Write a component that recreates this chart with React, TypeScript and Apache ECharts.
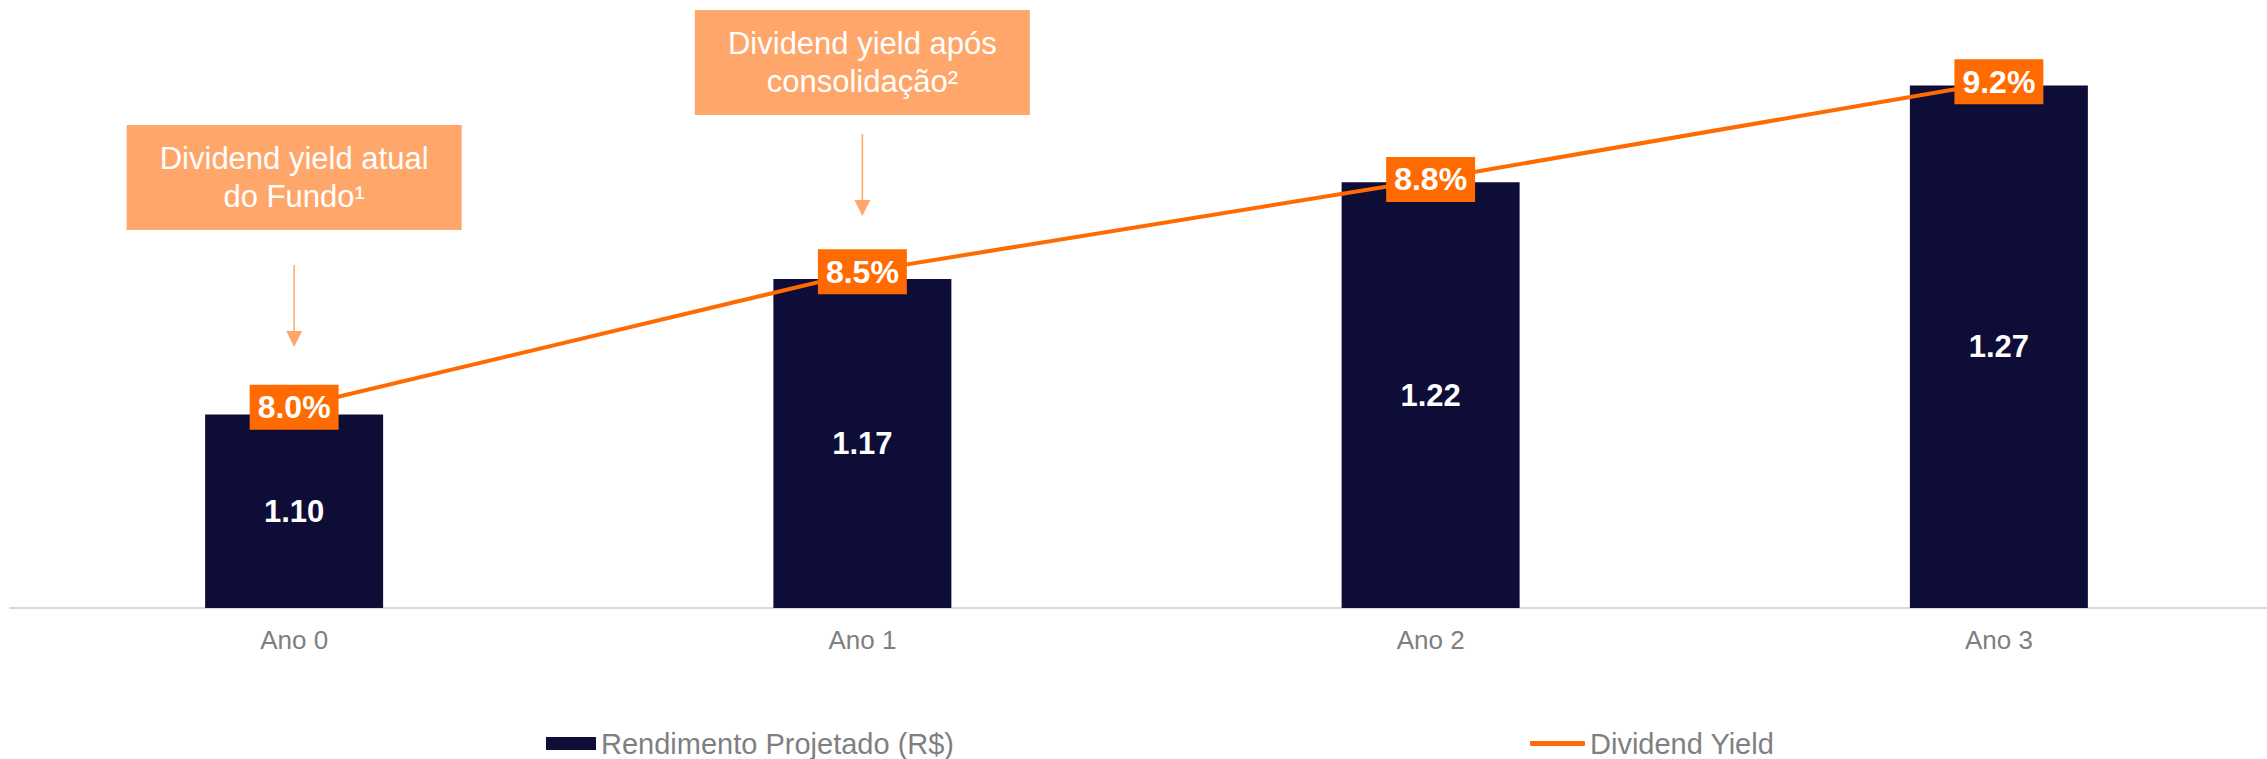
import React, { useEffect, useRef } from "react";
import * as echarts from "echarts";

const categories = ["Ano 0", "Ano 1", "Ano 2", "Ano 3"];
const rendimento = [1.1, 1.17, 1.22, 1.27];
const dividendYield = [8.0, 8.5, 8.84, 9.2];
const seriesNames = ["Rendimento Projetado (R$)", "Dividend Yield"];
const annotationTexts = ["Dividend yield atual\ndo Fundo¹", "Dividend yield após\nconsolidação²"];
const annotationCategoryIndex = [0, 1];

const FONT = "'Liberation Sans', Arial, sans-serif";
const NAVY = "#0e0d37";
const ORANGE = "#ff6b00";
const LIGHT_ORANGE = "#ffa76b";
const GRAY = "#7f7f7f";

// layout of the annotation boxes (top of box, arrow start, arrow tip)
const annotationLayout = [
  { top: 125, arrowStart: 265, arrowTip: 347 },
  { top: 10, arrowStart: 134, arrowTip: 216 },
];

export default function App() {
  const ref = useRef<HTMLDivElement>(null);

  useEffect(() => {
    document.body.style.margin = "0";
    document.body.style.overflow = "hidden";
    const chart = echarts.init(ref.current!, null, { renderer: "svg" });
    const option: any = {
      animation: false,
      grid: {
        left: 10,
        width: 2273,
        top: 27.5,
        height: 580.5,
        containLabel: false,
        outerBoundsMode: "none",
      },
      xAxis: {
        type: "category",
        data: categories,
        axisLine: { lineStyle: { color: "#d9d9d9", width: 2 } },
        axisTick: { show: false },
        axisLabel: { color: GRAY, fontSize: 26, fontFamily: FONT, margin: 19 },
      },
      yAxis: [
        { type: "value", min: 1.0, max: 1.3, show: false, splitLine: { show: false } },
        { type: "value", min: 7.26, max: 9.4, show: false, splitLine: { show: false } },
      ],
      legend: [
        {
          data: [seriesNames[0]],
          left: 546,
          top: 729,
          padding: 0,
          itemWidth: 50,
          itemHeight: 13,
          icon: "rect",
          textStyle: { color: GRAY, fontSize: 29, fontFamily: FONT },
        },
        {
          data: [{ name: seriesNames[1], icon: "roundRect" }],
          left: 1530,
          top: 729,
          padding: 0,
          itemWidth: 55,
          itemHeight: 5,
          textStyle: { color: GRAY, fontSize: 29, fontFamily: FONT },
        },
      ],
      series: [
        {
          name: seriesNames[0],
          type: "bar",
          data: rendimento,
          barWidth: 178,
          itemStyle: { color: NAVY },
          label: {
            show: true,
            position: "inside",
            color: "#fff",
            fontWeight: "bold",
            fontSize: 31,
            fontFamily: FONT,
            formatter: (p: any) => p.value.toFixed(2),
          },
        },
        {
          name: seriesNames[1],
          type: "line",
          yAxisIndex: 1,
          data: dividendYield,
          symbol: "circle",
          symbolSize: 1,
          itemStyle: { color: ORANGE },
          lineStyle: { color: ORANGE, width: 4 },
          label: {
            show: true,
            position: "inside",
            color: "#fff",
            fontWeight: "bold",
            fontSize: 32,
            fontFamily: FONT,
            backgroundColor: ORANGE,
            padding: [6, 8, 6, 8],
            lineHeight: 33,
            formatter: (p: any) => p.value.toFixed(1) + "%",
          },
          z: 3,
        },
      ],
    };
    chart.setOption(option);

    const elements: any[] = [];
    annotationTexts.forEach((txt, i) => {
      const cx = chart.convertToPixel({ xAxisIndex: 0 }, annotationCategoryIndex[i]) as number;
      const lay = annotationLayout[i];
      const w = 335;
      const h = 105;
      elements.push({
        type: "rect",
        shape: { x: cx - w / 2, y: lay.top, width: w, height: h },
        style: { fill: LIGHT_ORANGE },
      });
      elements.push({
        type: "text",
        x: cx,
        y: lay.top + h / 2,
        style: {
          text: txt,
          fill: "#fff",
          fontSize: 31,
          fontFamily: FONT,
          lineHeight: 38,
          align: "center",
          verticalAlign: "middle",
          textAlign: "center",
          textVerticalAlign: "middle",
        },
      });
      elements.push({
        type: "line",
        shape: { x1: cx, y1: lay.arrowStart, x2: cx, y2: lay.arrowTip - 14 },
        style: { stroke: LIGHT_ORANGE, lineWidth: 1.5 },
      });
      elements.push({
        type: "polygon",
        shape: {
          points: [
            [cx - 8, lay.arrowTip - 16],
            [cx + 8, lay.arrowTip - 16],
            [cx, lay.arrowTip],
          ],
        },
        style: { fill: LIGHT_ORANGE },
      });
    });
    chart.setOption({ graphic: { elements } });

    return () => chart.dispose();
  }, []);

  return <div ref={ref} style={{ width: 2267, height: 759 }} />;
}
